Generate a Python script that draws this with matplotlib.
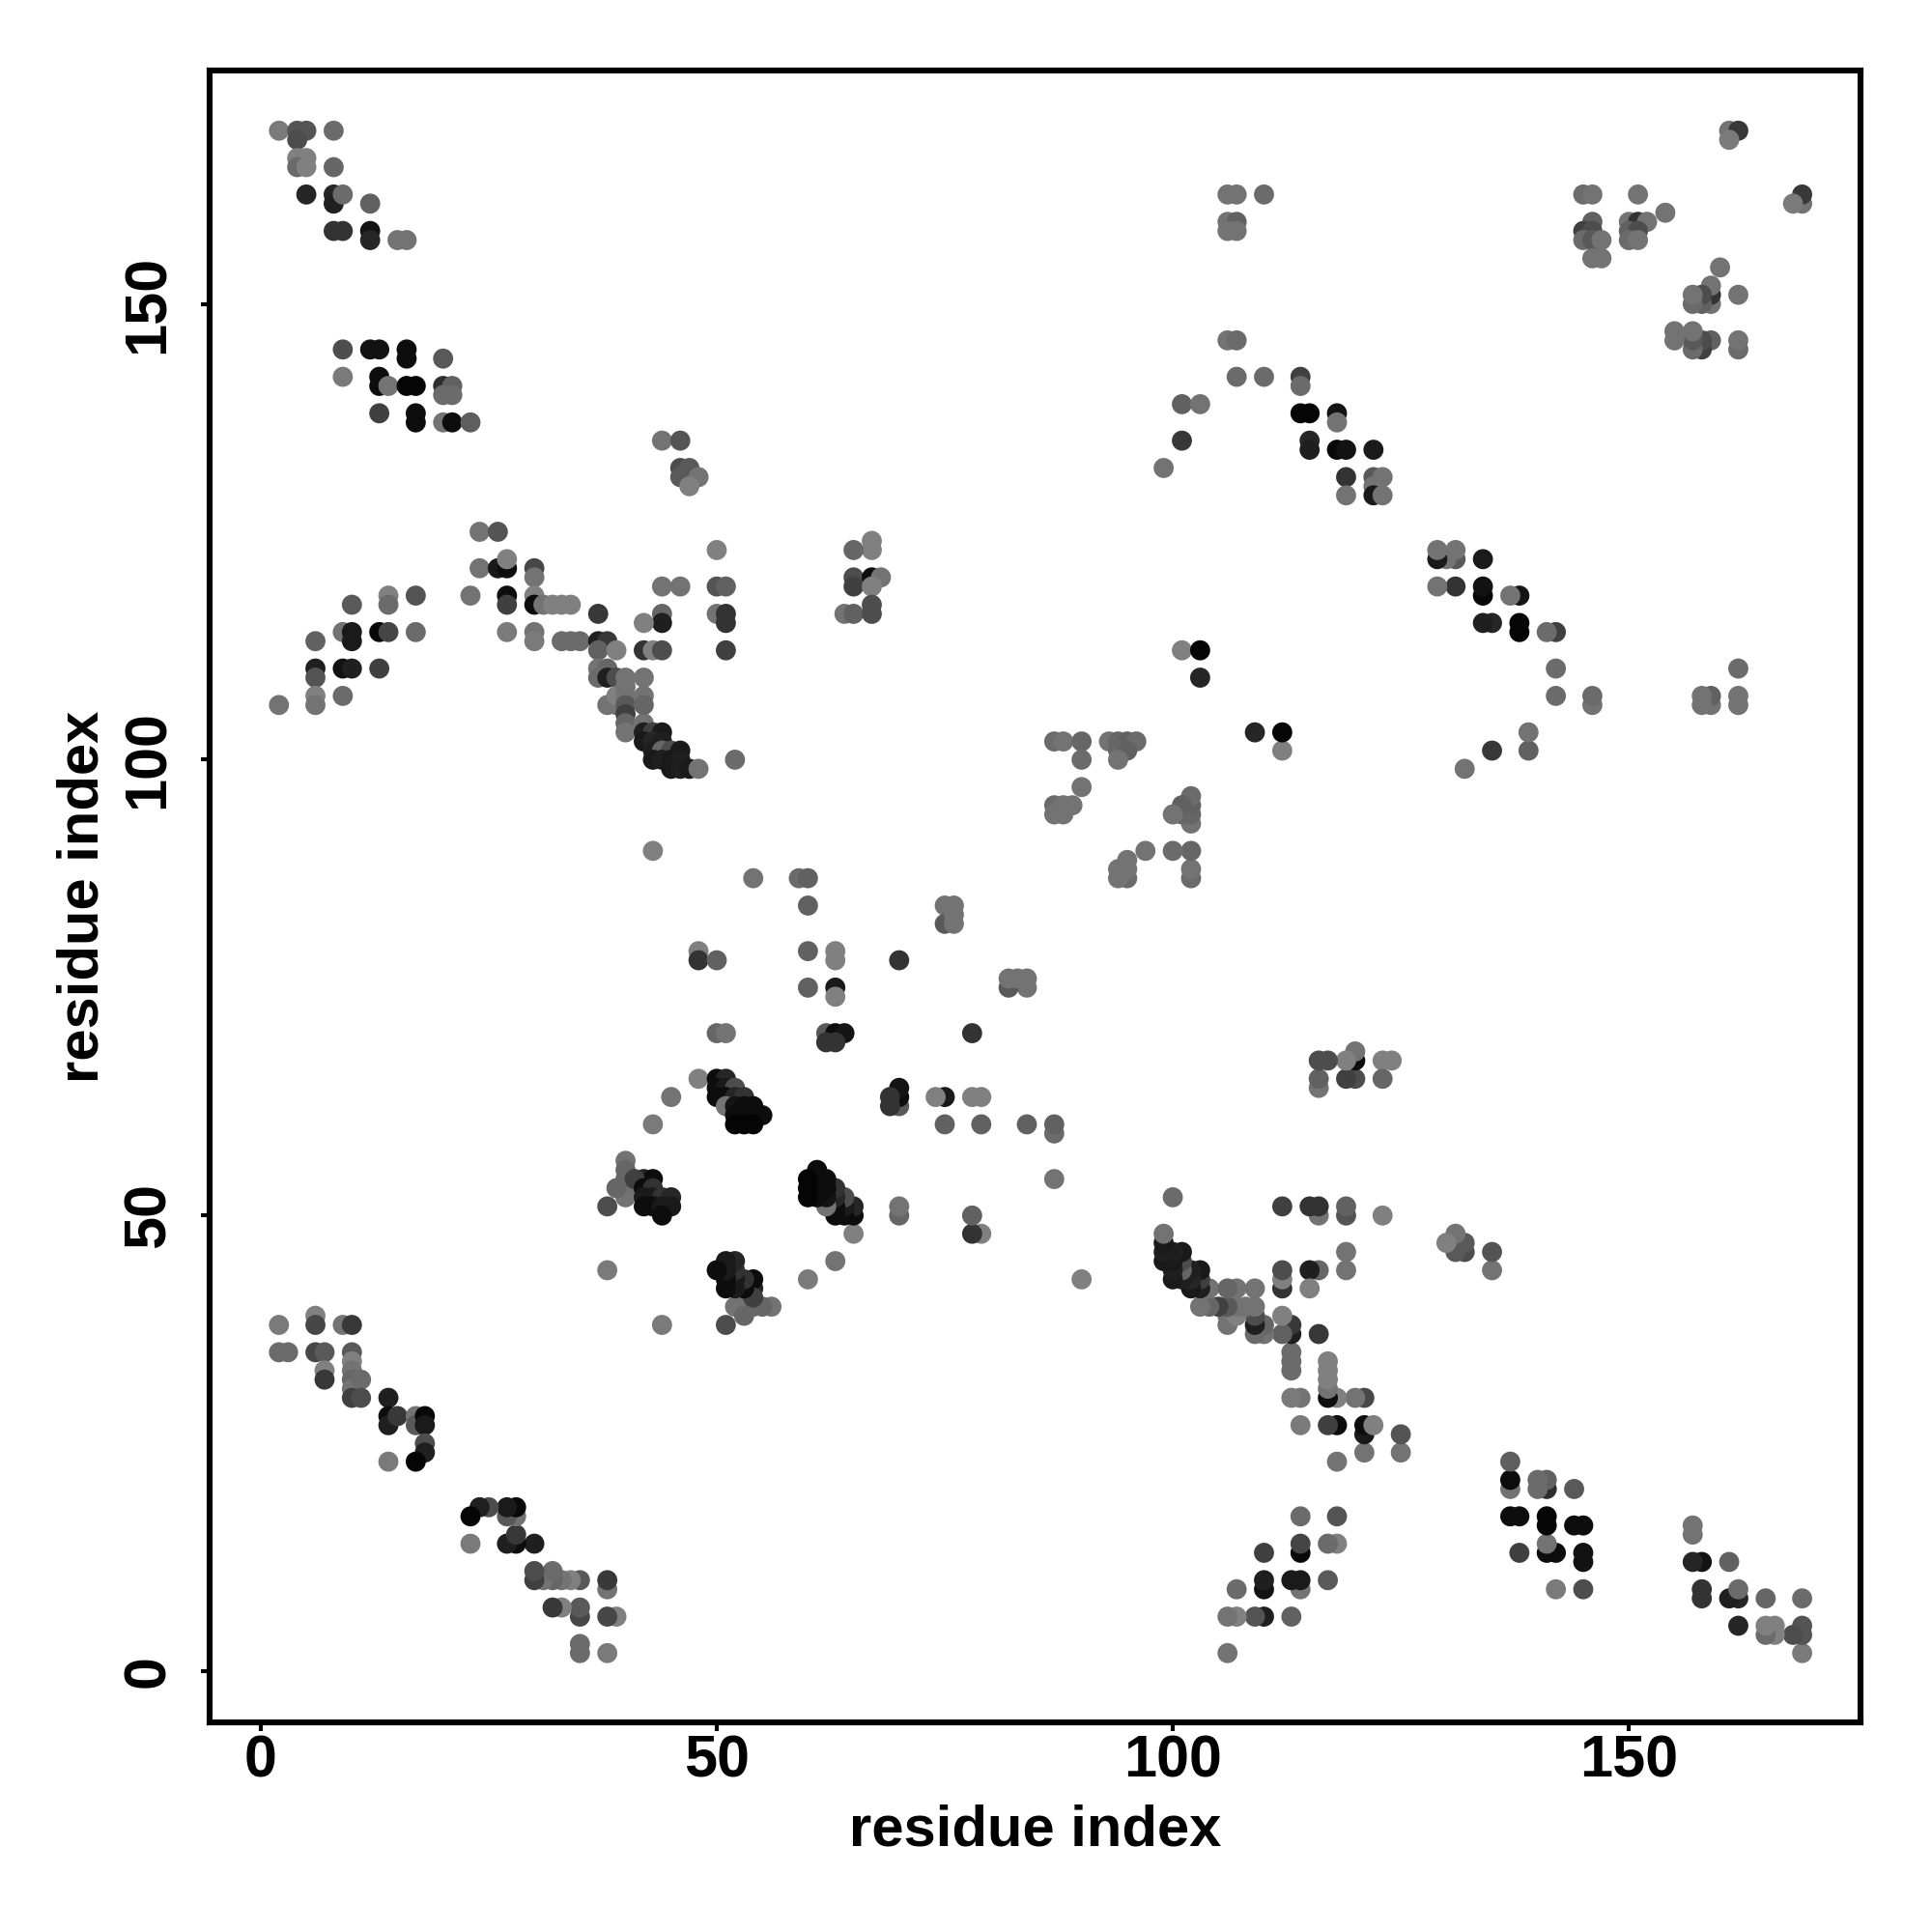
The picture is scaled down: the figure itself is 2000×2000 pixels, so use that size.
import matplotlib.pyplot as plt
import numpy as np

plt.rcParams['font.family'] = ['Liberation Sans', 'DejaVu Sans']
plt.rcParams['font.weight'] = 'bold'

# contacts above the diagonal (res_a < res_b); the map is symmetric
# shade = grey level of the dot (0 black, 1 white)
res_a = [
    # top-left corner
    2, 4, 5, 4, 8, 4, 5, 4, 5, 8, 5, 8, 8, 9, 12, 8, 9, 12, 12, 15, 16,
    9, 12, 13, 16, 16, 20, 9, 13, 13, 14, 16, 17, 20, 21, 20, 21, 13, 17, 17, 20, 21, 23,
    44, 46, 46, 47, 46, 48, 47,
    # left arc
    24, 26, 24, 26, 27, 27, 30, 30, 23, 27, 27, 30, 30, 31, 32, 33, 34, 37, 17, 14, 14, 10,
    6, 9, 10, 10, 13, 14, 17, 27, 30, 30, 33, 34, 35, 37, 38, 37, 39,
    6, 6, 9, 10, 13, 37, 38, 37, 38, 39, 40, 6, 6, 9, 2, 38, 39, 39,
    40, 40, 40, 40, 40, 40,
    # diagonal band
    42, 42, 43, 44, 42, 43, 44, 43, 44, 45, 46, 43, 44, 45, 46, 45, 46, 47, 48, 52,
    # middle
    50, 44, 46, 50, 51, 44, 44, 42, 50, 51, 51, 42, 43, 44, 51, 42, 42, 42,
    43, 54, 59, 60, 60, 67, 67, 65, 65, 65, 67, 68, 67, 64, 65, 67, 67,
    48, 48, 50, 60, 63, 63, 60, 63, 63, 70, 75, 76, 75, 76, 76,
    50, 51, 62, 63, 64, 62, 63, 48, 45, 43,
    50, 51, 50, 51, 52, 50, 51, 52, 53, 51, 52, 53, 54, 52, 53, 54, 55, 52, 53, 54,
    40, 40, 40, 40, 40, 39, 38, 38,
    42, 43, 41, 42, 43, 42, 43, 44, 45, 42, 43, 44, 45, 44,
    # upper right of centre
    106, 107, 110, 106, 107, 106, 107, 106, 107, 107, 110, 114, 114, 101, 103,
    114, 115, 118, 118, 101, 115, 115, 118, 119, 122, 99, 119, 119, 122, 123, 122, 122, 123,
    101, 103, 103,
    87, 88, 90, 93, 94, 95, 96, 94, 95, 94, 90, 90, 87, 88, 89, 87, 88,
    # top-right corner
    145, 146, 151, 154, 146, 145, 146, 145, 146, 147, 146, 147,
    150, 151, 152, 150, 151, 150, 151, 161, 162, 161,
    # bottom-left corner
    2, 6, 6, 9, 10, 2, 3, 6, 7, 10, 10, 10, 10, 10, 10, 11, 11, 7, 7,
    14, 14, 14, 15, 17, 17, 18, 18, 18, 18, 17, 14,
]
res_b = [
    169, 169, 169, 168, 169, 166, 166, 165, 165, 165, 162, 162, 161, 162, 161, 158, 158, 158, 157, 157, 157,
    145, 145, 145, 145, 144, 144, 142, 142, 141, 141, 141, 141, 141, 141, 140, 140, 138, 138, 137, 137, 137, 137,
    135, 135, 132, 132, 131, 131, 130,
    125, 125, 121, 121, 121, 122, 121, 120, 118, 118, 117, 118, 117, 117, 117, 117, 117, 116, 118, 118, 117, 117,
    113, 114, 114, 113, 114, 114, 114, 114, 114, 113, 113, 113, 113, 113, 113, 112, 112,
    110, 109, 110, 110, 110, 110, 110, 109, 109, 109, 109, 107, 106, 107, 106, 106, 106, 107,
    108, 107, 106, 105, 104, 103,
    104, 103, 103, 103, 102, 102, 102, 101, 101, 101, 101, 100, 100, 100, 100, 99, 99, 99, 99, 100,
    123, 119, 119, 119, 119, 116, 115, 115, 116, 116, 115, 112, 112, 112, 112, 109, 107, 106,
    90, 87, 87, 87, 84, 124, 123, 123, 120, 119, 120, 120, 119, 116, 116, 117, 116,
    79, 78, 78, 79, 79, 78, 75, 75, 74, 78, 84, 84, 82, 82, 83,
    70, 70, 70, 70, 70, 69, 69, 65, 63, 60,
    65, 65, 64, 64, 64, 63, 63, 63, 63, 62, 62, 62, 62, 61, 61, 61, 61, 60, 60, 60,
    56, 55, 54, 53, 52, 53, 51, 44,
    54, 54, 54, 53, 53, 52, 52, 52, 52, 51, 51, 51, 51, 50,
    162, 162, 162, 159, 159, 158, 158, 146, 146, 142, 142, 142, 141, 139, 139,
    138, 138, 138, 137, 135, 135, 134, 134, 134, 134, 132, 131, 129, 131, 131, 130, 129, 129,
    112, 112, 109,
    102, 102, 102, 102, 102, 102, 102, 101, 101, 100, 100, 97, 95, 95, 95, 94, 94,
    162, 162, 162, 160, 159, 158, 158, 157, 157, 157, 155, 155,
    159, 159, 159, 158, 158, 157, 157, 169, 169, 168,
    38, 39, 38, 38, 38, 35, 35, 35, 35, 35, 34, 33, 32, 31, 30, 32, 30, 33, 32,
    30, 28, 27, 28, 28, 27, 28, 27, 25, 24, 23, 23,
]
shade = [
    .48, .33, .33, .30, .42, .50, .50, .42, .50, .40, .15, .15, .12, .42, .38, .20, .20, .08, .15, .45, .45,
    .30, .07, .07, .05, .05, .35, .48, .05, .05, .45, .02, .02, .18, .38, .42, .42, .25, .05, .05, .45, .05, .37,
    .45, .33, .30, .35, .35, .45, .50,
    .45, .33, .45, .10, .05, .50, .28, .45, .45, .05, .25, .50, .05, .45, .50, .50, .50, .22, .33, .50, .42, .35,
    .38, .45, .10, .10, .03, .27, .42, .48, .45, .48, .42, .42, .42, .12, .22, .38, .50,
    .12, .33, .07, .12, .25, .45, .40, .42, .12, .30, .45, .50, .45, .42, .45, .45, .45, .50,
    .45, .45, .35, .25, .40, .45,
    .45, .12, .25, .10, .10, .15, .12, .12, .40, .30, .10, .10, .12, .10, .12, .10, .12, .10, .45, .42,
    .50, .45, .45, .33, .38, .40, .12, .50, .45, .20, .20, .20, .50, .30, .25, .45, .45, .40,
    .50, .45, .42, .38, .38, .50, .50, .40, .30, .25, .05, .45, .50, .45, .38, .30, .30,
    .50, .20, .38, .38, .50, .50, .38, .10, .50, .20, .45, .45, .35, .45, .45,
    .40, .45, .35, .05, .08, .20, .20, .50, .45, .48,
    .05, .15, .05, .10, .30, .05, .05, .15, .20, .45, .08, .05, .05, .05, .05, .05, .05, .02, .02, .02,
    .45, .40, .40, .40, .45, .40, .30, .48,
    .15, .05, .25, .05, .20, .10, .10, .20, .15, .05, .05, .10, .10, .05,
    .45, .45, .42, .45, .38, .45, .45, .45, .42, .42, .42, .25, .42, .38, .45,
    .02, .02, .08, .45, .22, .15, .12, .03, .07, .10, .45, .20, .45, .35, .45, .45, .10, .45,
    .50, .02, .15,
    .42, .45, .40, .45, .40, .38, .42, .40, .38, .45, .42, .45, .42, .45, .45, .45, .45,
    .42, .45, .45, .45, .38, .25, .30, .42, .35, .45, .45, .45,
    .45, .20, .45, .38, .30, .42, .45, .45, .22, .48,
    .48, .50, .28, .45, .22, .42, .42, .28, .35, .35, .50, .45, .40, .45, .25, .42, .30, .50, .22,
    .12, .05, .12, .22, .45, .35, .03, .10, .30, .12, .02, .48,
]

a = np.array(res_a)
b = np.array(res_b)
g = np.array(shade)
xs = np.concatenate([a, b])
ys = np.concatenate([b, a])
gs = np.concatenate([g, g])
cols = [(v, v, v) for v in gs]

fig = plt.figure(figsize=(10, 10), dpi=200)
ax = fig.add_axes([0.1085, 0.1085, 0.8545, 0.855])
ax.scatter(xs, ys, s=56, c=cols, linewidths=0)

ax.set_xlim(-5.6, 175.4)
ax.set_ylim(-5.6, 175.6)
ax.set_xticks([0, 50, 100, 150])
ax.set_yticks([0, 50, 100, 150])
for sp in ax.spines.values():
    sp.set_linewidth(2.2)
ax.tick_params(length=3.2, width=1.5, labelsize=22)
ax.tick_params(axis='x', pad=1.2)
ax.tick_params(axis='y', pad=9.0, labelrotation=90)
for lab in ax.get_yticklabels():
    lab.set_va('center')

ax.set_xlabel('residue index', fontsize=21.5, fontweight='bold')
ax.xaxis.set_label_coords(0.5, -0.0495)
ax.set_ylabel('residue index', fontsize=21.5, fontweight='bold')
ax.yaxis.set_label_coords(-0.0603, 0.5)

fig.savefig('out.png', dpi=200)
